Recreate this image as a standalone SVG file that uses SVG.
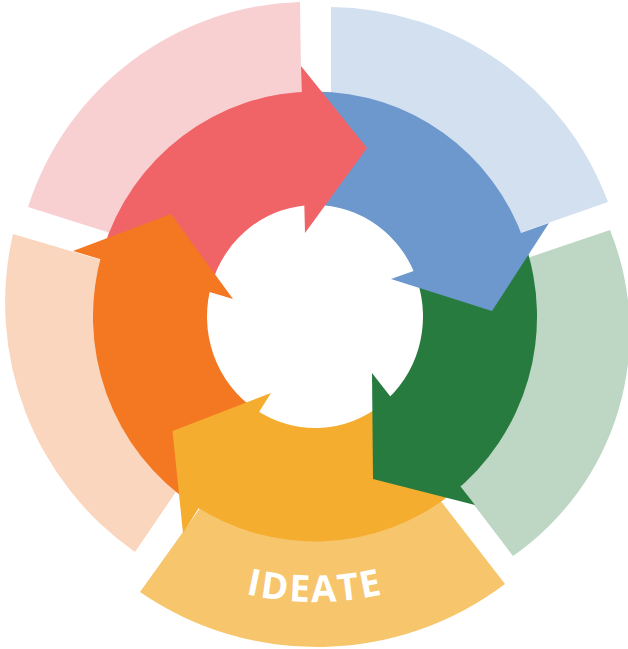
<svg xmlns="http://www.w3.org/2000/svg" xmlns:xlink="http://www.w3.org/1999/xlink" width="628" height="649" viewBox="0 0 628 649">
  <style>
    .pink-l{fill:#F8D0D2}.blue-l{fill:#D3E0EF}.green-l{fill:#BED7C5}.yellow-l{fill:#F7C56B}.peach-l{fill:#FBD6BE}
    .red{fill:#F06468}.blue{fill:#6C98CE}.green{fill:#287B3F}.yellow{fill:#F4AD2E}.orange{fill:#F47721}
    .label{font-family:'Open Sans','Liberation Sans',sans-serif;font-weight:700;font-size:37px;fill:#FFFFFF;letter-spacing:2px}
  </style>
  <defs>
    <path id="textArc" d="M 11,298 A 304 304 0 0 0 619,298"/>
  </defs>
  <rect x="0" y="0" width="628" height="649" fill="#FFFFFF"/>

  <g id="outer-ring">
    <path id="outer-pink" class="pink-l" d="M 28,207 A 295 295 0 0 1 300,2 L 301.5,112 A 205 205 0 0 0 126,238 Z"/>
    <path id="outer-blue" class="blue-l" d="M 331,7 A 299 299 0 0 1 608,202 L 505,238 A 205 205 0 0 0 331,112 Z"/>
    <path id="outer-green" class="green-l" d="M 610,230 A 273 273 0 0 1 513,556 L 449,472 A 205 205 0 0 0 514,262.5 Z"/>
    <path id="outer-yellow" class="yellow-l" d="M 429.6,486.6 L 505,584 A 312 312 0 0 1 140,592 L 210.8,493.1 A 205 205 0 0 0 429.6,486.6 Z"/>
    <path id="outer-peach" class="peach-l" d="M 13,234 A 304 304 0 0 0 135,552 L 186,477 A 205 205 0 0 1 116.3,264.5 Z"/>
  </g>

  <g id="inner-ring">
    <g id="band-red"><path class="red" d="M 102.7,250.7 A 222 225 0 0 1 315,91.5 L 315,205 A 108 111.5 0 0 0 211.7,283.9 Z"/></g>
    <g id="band-blue"><path class="blue" d="M 315,91.5 A 222 225 0 0 1 524.3,241.4 L 416.8,279.3 A 108 111.5 0 0 0 315,205 Z"/></g>
    <g id="band-green"><path class="green" d="M 524.3,241.4 A 222 225 0 0 1 451.7,493.8 L 381.5,404.4 A 108 111.5 0 0 0 416.8,279.3 Z"/></g>
    <g id="band-yellow"><path class="yellow" d="M 451.7,493.8 A 222 225 0 0 1 194.1,505.2 L 256.2,410 A 108 111.5 0 0 0 381.5,404.4 Z"/></g>
    <g id="band-orange"><path class="orange" d="M 194.1,505.2 A 222 225 0 0 1 102.7,250.7 L 211.7,283.9 A 108 111.5 0 0 0 256.2,410 Z"/></g>
  </g>

  <g id="connectors">
    <polygon id="head-red" class="red" points="301,66 367,148 305,233"/>
    <polygon id="head-blue" class="blue" points="549,223 492,311 391,279"/>
    <polygon id="head-green" class="green" points="475,505 373,479 372,373"/>
    <polygon id="head-yellow" class="yellow" points="183,533 172.5,431 271,393"/>
    <polygon id="head-orange" class="orange" points="73,251 171,214 233,299"/>
  </g>

  <g id="ideate">
    <text class="label"><textPath href="#textArc" xlink:href="#textArc" startOffset="50%" text-anchor="middle">IDEATE</textPath></text>
  </g>
</svg>
